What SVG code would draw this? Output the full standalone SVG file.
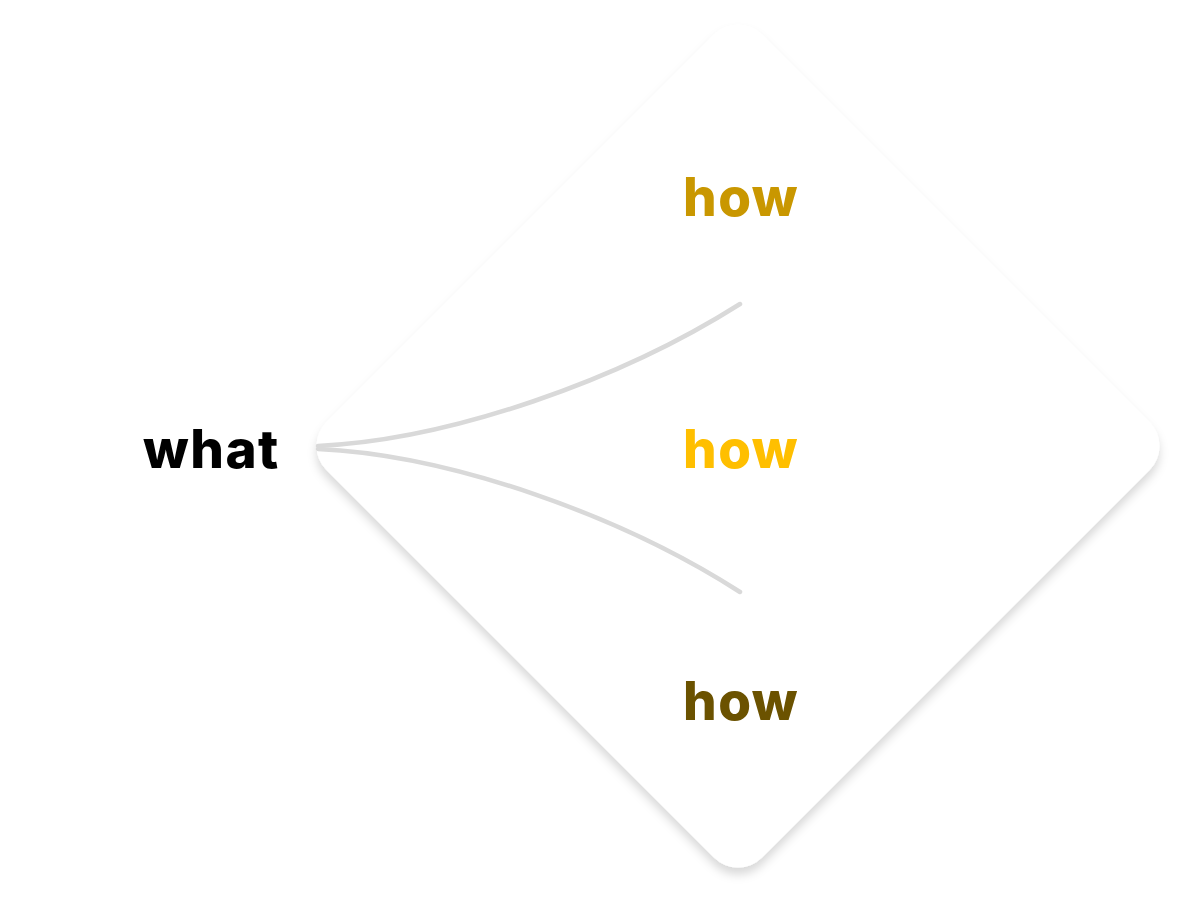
<svg xmlns="http://www.w3.org/2000/svg" width="1200" height="898" viewBox="0 0 1200 898">
<defs>
<filter id="sh" x="-20%" y="-20%" width="140%" height="140%">
<feDropShadow dx="0" dy="7" stdDeviation="5" flood-color="#000" flood-opacity="0.15"/>
</filter>
</defs>
<style>
.lbl{font-family:Inter,"Liberation Sans",sans-serif;font-weight:800;font-size:53px;letter-spacing:1.5px;}
.edge{fill:none;stroke:#d9d9d9;stroke-width:4.5;stroke-linecap:round;}
</style>
<rect width="1200" height="898" fill="#ffffff"/>
<g id="diamond" filter="url(#sh)">
<rect x="430" y="138" width="616" height="616" rx="34" fill="#ffffff" transform="rotate(45 738 446)"/>
</g>
<g id="connectors">
<path class="edge" d="M318,446 C450,440 620,380 740,304"/>
<path class="edge" d="M318,449 C450,455 620,515 740,592"/>
</g>
<g id="what"><text class="lbl" x="143" y="468" fill="#000000">what</text></g>
<g id="how1"><text class="lbl" x="683" y="216" fill="#C99700">how</text></g>
<g id="how2"><text class="lbl" x="683" y="468" fill="#FFBF00">how</text></g>
<g id="how3"><text class="lbl" x="683" y="720" fill="#6B5200">how</text></g>
</svg>
